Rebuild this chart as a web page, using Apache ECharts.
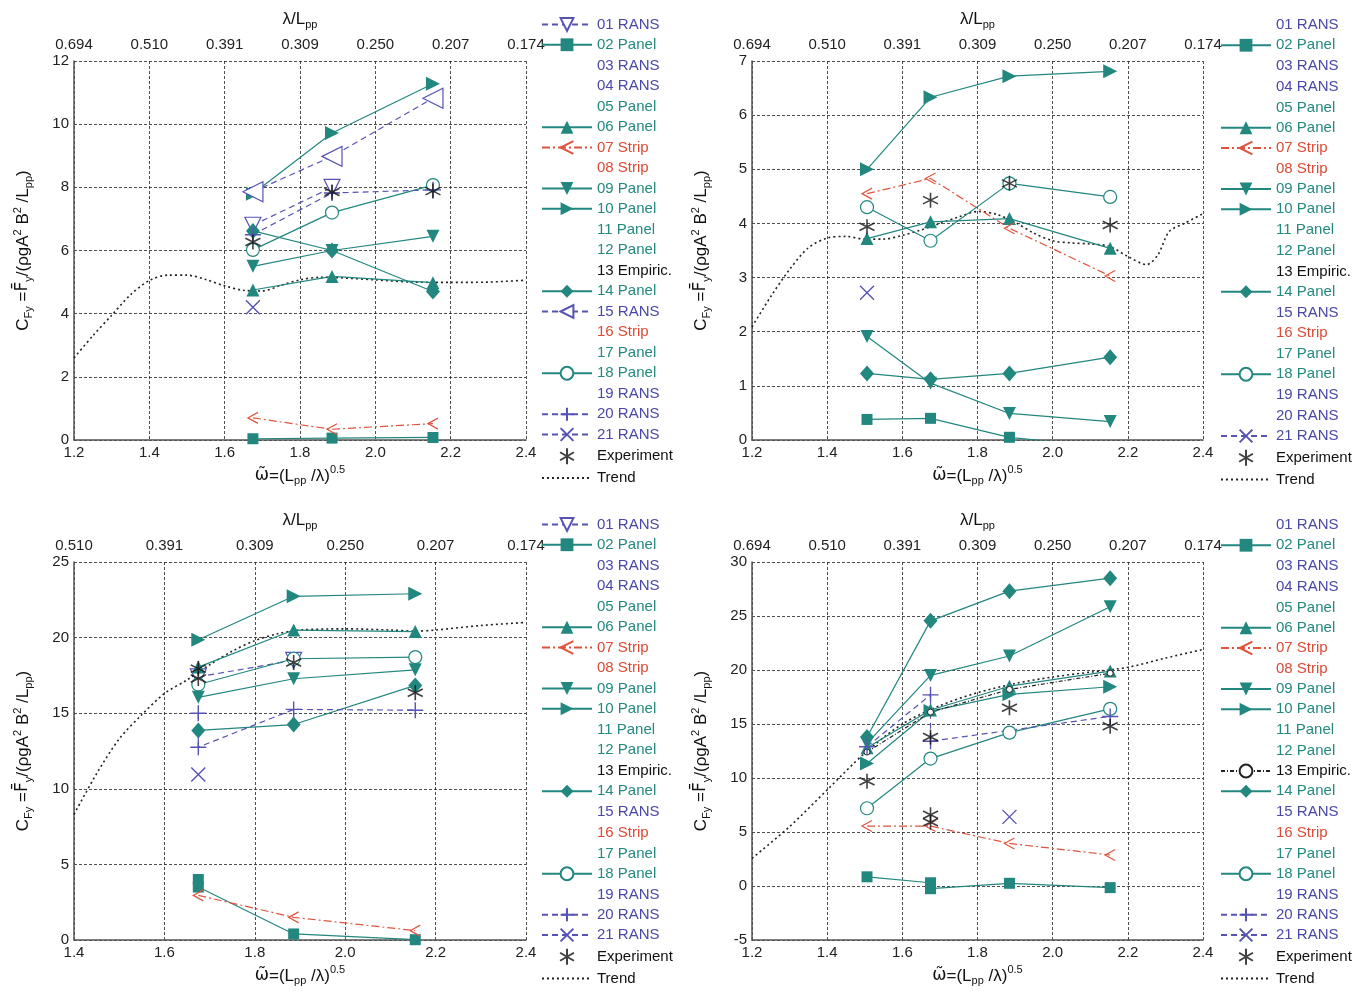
<!DOCTYPE html>
<html><head><meta charset="utf-8">
<script src="https://cdn.jsdelivr.net/npm/echarts@6/dist/echarts.min.js"></script>
<style>body{margin:0;background:#fff;} .p{position:absolute;width:681px;height:496px;}</style>
</head><body>
<div id="c1" class="p" style="left:0;top:0"></div>
<div id="c2" class="p" style="left:681px;top:0"></div>
<div id="c3" class="p" style="left:0;top:496px"></div>
<div id="c4" class="p" style="left:681px;top:496px"></div>
<script>
// ---------------- DATA ----------------
const legendNames = ['01 RANS','02 Panel','03 RANS','04 RANS','05 Panel','06 Panel','07 Strip','08 Strip','09 Panel','10 Panel','11 Panel','12 Panel','13 Empiric.','14 Panel','15 RANS','16 Strip','17 Panel','18 Panel','19 RANS','20 RANS','21 RANS','Experiment','Trend'];
const topTicksA = ['0.694','0.510','0.391','0.309','0.250','0.207','0.174'];
const topTicksB = ['0.510','0.391','0.309','0.250','0.207','0.174'];

// Panel 1 (top-left)
const p1X = [1.675, 1.885, 2.153];
const p1_01 = [6.8, 8.0];
const p1_02 = [0.04, 0.06, 0.08];
const p1_06 = [4.75, 5.18, 4.98];
const p1_07 = [0.7, 0.34, 0.52];
const p1_09 = [5.5, 6.0, 6.45];
const p1_10 = [7.8, 9.72, 11.28];
const p1_14 = [6.62, 6.0, 4.7];
const p1_15 = [7.86, 8.98, 10.82];
const p1_18 = [6.02, 7.2, 8.07];
const p1_20 = [6.5, 7.82, 7.92];
const p1_21 = [4.2];
const p1_exp = [6.27, 7.85, 7.88];
const p1TrendX = [1.2,1.25,1.3,1.35,1.4,1.45,1.5,1.55,1.6,1.65,1.7,1.75,1.8,1.85,1.9,2.0,2.1,2.2,2.3,2.4];
const p1TrendY = [2.6,3.3,3.95,4.6,5.05,5.22,5.22,5.08,4.88,4.74,4.72,4.9,5.07,5.15,5.14,5.07,5.0,4.99,5.0,5.06];

// Panel 2 (top-right)
const p2X = [1.506, 1.675, 1.885, 2.153];
const p2_02 = [0.38, 0.4, 0.05, -0.14];
const p2_06 = [3.72, 4.03, 4.09, 3.54];
const p2_07 = [4.55, 4.83, 3.91, 3.03];
const p2_09 = [1.91, 1.05, 0.49, 0.34];
const p2_10 = [5.0, 6.33, 6.72, 6.81];
const p2_14 = [1.23, 1.12, 1.23, 1.53];
const p2_18 = [4.3, 3.68, 4.74, 4.49];
const p2_21 = [2.72];
const p2_exp = [3.94, 4.43, 4.74, 3.97];
const p2TrendX = [1.2,1.25,1.3,1.35,1.4,1.45,1.5,1.55,1.6,1.65,1.7,1.75,1.8,1.85,1.9,1.95,2.0,2.05,2.1,2.15,2.2,2.25,2.28,2.31,2.35,2.4];
const p2TrendY = [2.09,2.65,3.15,3.55,3.73,3.76,3.71,3.71,3.78,3.88,4.0,4.12,4.22,4.17,4.02,3.82,3.68,3.64,3.62,3.58,3.39,3.24,3.42,3.85,4.0,4.18];

// Panel 3 (bottom-left)
const p3X = [1.675, 1.886, 2.155];
const p3_01 = [17.4, 18.5];
const p3_02X = [1.675, 1.675, 1.886, 2.155];
const p3_02 = [4.0, 3.5, 0.4, 0.02];
const p3_06 = [18.05, 20.5, 20.4];
const p3_07 = [2.95, 1.5, 0.62];
const p3_09 = [16.05, 17.28, 17.87];
const p3_10 = [19.86, 22.73, 22.9];
const p3_14 = [13.86, 14.25, 16.84];
const p3_18 = [16.9, 18.6, 18.71];
const p3_20X = [1.675, 1.675, 1.886, 2.155];
const p3_20 = [15.0, 12.75, 15.25, 15.2];
const p3_21 = [10.95];
const p3_expX = [1.675, 1.675, 1.886, 2.155];
const p3_exp = [17.95, 17.3, 18.35, 16.35];
const p3TrendX = [1.4,1.45,1.5,1.55,1.6,1.65,1.7,1.75,1.8,1.85,1.9,2.0,2.1,2.155,2.2,2.3,2.4];
const p3TrendY = [8.3,11.0,13.3,14.9,16.3,17.2,18.2,19.1,19.8,20.25,20.5,20.58,20.5,20.43,20.5,20.8,21.0];

// Panel 4 (bottom-right)
const p4X = [1.506, 1.675, 1.885, 2.153];
const p4_02X = [1.506, 1.675, 1.675, 1.885, 2.153];
const p4_02 = [0.85, 0.3, -0.25, 0.25, -0.15];
const p4_06 = [12.8, 16.3, 18.5, 19.9];
const p4_07 = [5.55, 5.55, 3.94, 2.87];
const p4_09 = [13.2, 19.5, 21.3, 25.85];
const p4_10 = [11.35, 16.2, 17.75, 18.45];
const p4_13 = [12.4, 16.1, 18.2, 19.7];
const p4_14 = [13.8, 24.55, 27.3, 28.5];
const p4_18 = [7.2, 11.8, 14.2, 16.4];
const p4_20X = [1.506, 1.675, 1.675, 2.153];
const p4_20 = [12.9, 17.7, 13.4, 15.7];
const p4_21X = [1.885];
const p4_21 = [6.4];
const p4_expX = [1.506, 1.675, 1.675, 1.675, 1.885, 2.153];
const p4_exp = [9.7, 13.8, 6.6, 5.9, 16.5, 14.8];
const p4TrendX = [1.2,1.3,1.4,1.5,1.6,1.7,1.8,1.9,2.0,2.1,2.2,2.3,2.4];
const p4TrendY = [2.56,5.5,8.9,12.3,15.0,16.7,17.9,18.75,19.35,19.8,20.25,21.1,21.9];

// ---------------- STYLE ----------------
const FONT = '"Liberation Sans", Arial, sans-serif';
const TEAL = '#22877f', BLUE = '#5753b4', RED = '#e0533e';
const ASTER = 'path://M0,-10L0,10M-8.66,-5L8.66,5M-8.66,5L8.66,-5';
const PLUS = 'path://M5,0L5,10M0,5L10,5';
const CROSS = 'path://M0,0L10,10M10,0L0,10';
const CHEV = 'path://M10,0L0,5L10,10';
const NOFILL = 'rgba(0,0,0,0)';
const dashRANS = [6, 4], dashStrip = [8, 3, 2, 3];
const sty = {
  '01 RANS': {lc: BLUE, lt: dashRANS, sym: 'triangle', rot: 180, size: 16, fill: '#fff', st: BLUE, bw: 1.2},
  '02 Panel': {lc: TEAL, lt: 'solid', sym: 'rect', rot: 0, size: 11, fill: TEAL, st: TEAL, bw: 0},
  '06 Panel': {lc: TEAL, lt: 'solid', sym: 'triangle', rot: 0, size: 13, fill: TEAL, st: TEAL, bw: 0},
  '07 Strip': {lc: RED, lt: dashStrip, sym: CHEV, rot: 0, size: [10, 11], fill: NOFILL, st: RED, bw: 1.2},
  '09 Panel': {lc: TEAL, lt: 'solid', sym: 'triangle', rot: 180, size: 13, fill: TEAL, st: TEAL, bw: 0},
  '10 Panel': {lc: TEAL, lt: 'solid', sym: 'triangle', rot: -90, size: 14, fill: TEAL, st: TEAL, bw: 0},
  '13 Empiric.': {lc: '#222', lt: [4, 2, 1, 2], sym: 'circle', rot: 0, size: 6, fill: '#fff', st: '#222', bw: 1},
  '14 Panel': {lc: TEAL, lt: 'solid', sym: 'diamond', rot: 0, size: [14, 16], fill: TEAL, st: TEAL, bw: 0},
  '15 RANS': {lc: BLUE, lt: dashRANS, sym: 'triangle', rot: 90, size: 20, fill: '#fff', st: BLUE, bw: 1.2},
  '18 Panel': {lc: TEAL, lt: 'solid', sym: 'circle', rot: 0, size: 13, fill: '#fff', st: TEAL, bw: 1.2},
  '20 RANS': {lc: BLUE, lt: dashRANS, sym: PLUS, rot: 0, size: 16, fill: NOFILL, st: BLUE, bw: 1.4},
  '21 RANS': {lc: BLUE, lt: dashRANS, sym: CROSS, rot: 0, size: 14, fill: NOFILL, st: BLUE, bw: 1.4}
};
function textColor(n) {
  if (n.indexOf('RANS') >= 0) return '#4a48a6';
  if (n.indexOf('Panel') >= 0) return '#24897f';
  if (n.indexOf('Strip') >= 0) return '#dc4b36';
  return '#111';
}
function zip(xs, ys) { return ys.map((y, i) => [xs[i], y]); }

function lineSeries(name, xs, ys) {
  const s = sty[name];
  return {
    name, type: 'line', data: zip(xs, ys), clip: true,
    symbol: s.sym, symbolSize: s.size, symbolRotate: s.rot, showAllSymbol: true,
    lineStyle: {color: s.lc, type: s.lt, width: 1.2},
    itemStyle: {color: s.fill, borderColor: s.st, borderWidth: s.bw},
    emphasis: {disabled: true}, z: 3
  };
}
function expSeries(xs, ys) {
  return {name: 'Experiment', type: 'scatter', data: zip(xs, ys), symbol: ASTER, symbolSize: 15,
    itemStyle: {color: NOFILL, borderColor: '#111', borderWidth: 1.6}, emphasis: {disabled: true}, z: 4};
}
function trendSeries(xs, ys) {
  return {name: 'Trend', type: 'line', data: zip(xs, ys), smooth: 0.3, showSymbol: false, symbol: 'circle',
    lineStyle: {color: '#222', type: [2, 3], width: 1.6}, itemStyle: {color: NOFILL, borderWidth: 0},
    emphasis: {disabled: true}, z: 2};
}

const rich = {
  t: {fontSize: 17, fontFamily: FONT, color: '#111', lineHeight: 22},
  d: {fontSize: 17, fontFamily: 'DejaVu Sans', color: '#111', lineHeight: 22},
  sub: {fontSize: 11, fontFamily: FONT, color: '#111', verticalAlign: 'bottom', lineHeight: 12},
  sup: {fontSize: 11, fontFamily: FONT, color: '#111', verticalAlign: 'top', lineHeight: 12}
};
const yName = '{t|C}{sub|Fy}{t| =}{d|F\u0304}{sub|y}{t|/(ρgA}{sup|2}{t| B}{sup|2}{t| /L}{sub|pp}{t|)}';
const xName = '{d|ω\u0303}{t|=(L}{sub|pp}{t| /λ)}{sup|0.5}';
const tName = '{t|λ/L}{sub|pp}';

function build(el, cfg) {
  const chart = echarts.init(document.getElementById(el), null, {renderer: 'canvas'});
  const present = new Set(cfg.series.map(s => s.name));
  const all = cfg.series.slice();
  legendNames.forEach(n => { if (!present.has(n)) all.push({name: n, type: 'line', data: []}); });
  const grid = cfg.grid;
  const dash = {color: '#222', type: [3, 2], width: 0.8};
  chart.setOption({
    animation: false,
    textStyle: {fontFamily: FONT},
    grid: {left: grid[0], top: grid[1], width: grid[2], height: grid[3], containLabel: false},
    legend: {
      orient: 'vertical', left: cfg.legendLeft, top: cfg.legendTop, padding: 0,
      itemWidth: 50, itemHeight: 16, itemGap: 5.25, selectedMode: false,
      textStyle: {fontSize: 15, fontFamily: FONT},
      data: legendNames.map(n => present.has(n) ? {name: n, textStyle: {color: textColor(n)}}
        : {name: n, icon: 'none', textStyle: {color: textColor(n)}})
    },
    xAxis: [{
      type: 'value', position: 'bottom', min: cfg.xmin, max: 2.4, interval: 0.2,
      axisLine: {show: true, onZero: false, lineStyle: {color: '#555', width: 1.5}},
      axisTick: {show: false},
      axisLabel: {formatter: v => v.toFixed(1), fontSize: 15, color: '#222', margin: 5},
      splitLine: {show: true, lineStyle: dash},
      name: xName, nameLocation: 'middle', nameGap: 19, nameTextStyle: {rich}
    }, {
      type: 'value', position: 'top', min: cfg.xmin, max: 2.4, interval: 0.2,
      axisLine: {show: false}, axisTick: {show: false}, splitLine: {show: false},
      axisLabel: {formatter: v => cfg.top[Math.round((v - cfg.xmin) / 0.2)], fontSize: 15, color: '#222', margin: 9},
      name: tName, nameLocation: 'middle', nameGap: 31, nameTextStyle: {rich}
    }],
    yAxis: {
      type: 'value', min: cfg.ymin, max: cfg.ymax, interval: cfg.yint,
      axisLine: {show: true, onZero: false, lineStyle: {color: '#555', width: 1.5}},
      axisTick: {show: false},
      axisLabel: {fontSize: 15, color: '#222', margin: 5},
      splitLine: {show: true, lineStyle: dash},
      name: yName, nameLocation: 'middle', nameGap: 40, nameRotate: 90, nameTextStyle: {rich}
    },
    series: all
  });
}

build('c1', {grid: [74, 61, 452, 379], xmin: 1.2, ymin: 0, ymax: 12, yint: 2, top: topTicksA, legendLeft: 541, legendTop: 17,
  series: [trendSeries(p1TrendX, p1TrendY), lineSeries('01 RANS', p1X, p1_01), lineSeries('02 Panel', p1X, p1_02),
    lineSeries('06 Panel', p1X, p1_06), lineSeries('07 Strip', p1X, p1_07), lineSeries('09 Panel', p1X, p1_09),
    lineSeries('10 Panel', p1X, p1_10), lineSeries('14 Panel', p1X, p1_14), lineSeries('15 RANS', p1X, p1_15),
    lineSeries('18 Panel', p1X, p1_18), lineSeries('20 RANS', p1X, p1_20), lineSeries('21 RANS', p1X, p1_21),
    expSeries(p1X, p1_exp)]});

build('c2', {grid: [71, 61, 451, 379], xmin: 1.2, ymin: 0, ymax: 7, yint: 1, top: topTicksA, legendLeft: 539, legendTop: 17,
  series: [trendSeries(p2TrendX, p2TrendY), lineSeries('02 Panel', p2X, p2_02), lineSeries('06 Panel', p2X, p2_06),
    lineSeries('07 Strip', p2X, p2_07), lineSeries('09 Panel', p2X, p2_09), lineSeries('10 Panel', p2X, p2_10),
    lineSeries('14 Panel', p2X, p2_14), lineSeries('18 Panel', p2X, p2_18), lineSeries('21 RANS', p2X, p2_21),
    expSeries(p2X, p2_exp)]});

build('c3', {grid: [74, 66, 452, 378], xmin: 1.4, ymin: 0, ymax: 25, yint: 5, top: topTicksB, legendLeft: 541, legendTop: 21,
  series: [trendSeries(p3TrendX, p3TrendY), lineSeries('01 RANS', p3X, p3_01), lineSeries('02 Panel', p3_02X, p3_02),
    lineSeries('06 Panel', p3X, p3_06), lineSeries('07 Strip', p3X, p3_07), lineSeries('09 Panel', p3X, p3_09),
    lineSeries('10 Panel', p3X, p3_10), lineSeries('14 Panel', p3X, p3_14), lineSeries('18 Panel', p3X, p3_18),
    lineSeries('20 RANS', p3_20X, p3_20), lineSeries('21 RANS', p3X, p3_21), expSeries(p3_expX, p3_exp)]});

build('c4', {grid: [71, 66, 451, 378], xmin: 1.2, ymin: -5, ymax: 30, yint: 5, top: topTicksA, legendLeft: 539, legendTop: 21,
  series: [trendSeries(p4TrendX, p4TrendY), lineSeries('02 Panel', p4_02X, p4_02), lineSeries('06 Panel', p4X, p4_06),
    lineSeries('07 Strip', p4X, p4_07), lineSeries('09 Panel', p4X, p4_09), lineSeries('10 Panel', p4X, p4_10),
    lineSeries('13 Empiric.', p4X, p4_13), lineSeries('14 Panel', p4X, p4_14), lineSeries('18 Panel', p4X, p4_18),
    lineSeries('20 RANS', p4_20X, p4_20), lineSeries('21 RANS', p4_21X, p4_21), expSeries(p4_expX, p4_exp)]});
</script>
</body></html>
